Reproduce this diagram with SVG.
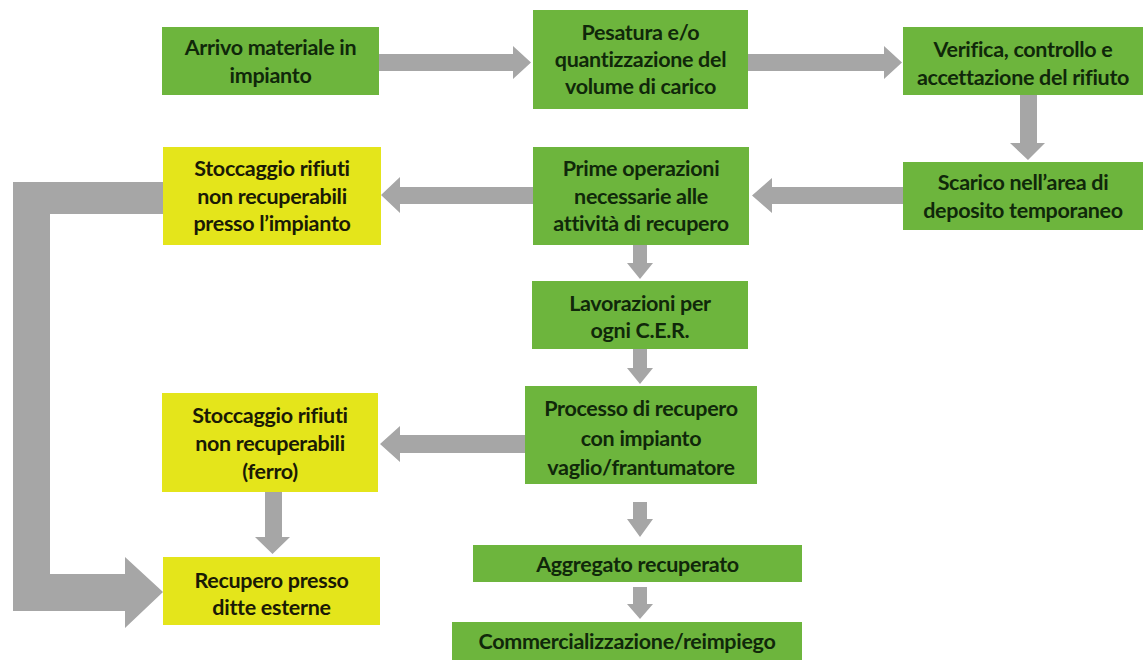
<svg xmlns="http://www.w3.org/2000/svg" width="1145" height="666" viewBox="0 0 1145 666">
<style>
.g{fill:#6db53d}
.y{fill:#e4e51b}
.a{fill:#a6a6a6}
text{font-family:Lato,"Liberation Sans",sans-serif;font-weight:700;font-size:21.5px;text-anchor:middle;dominant-baseline:central;letter-spacing:-0.3px}
.tg{fill:#10280a}
.ty{fill:#1a1a05}
</style>
<rect width="1145" height="666" fill="#ffffff"/>
<g id="connectors">
<polygon class="a" points="379,54 513,54 513,46 531,62.5 513,79 513,71 379,71"/>
<polygon class="a" points="748,54 884,54 884,46 902,62.5 884,79 884,71 748,71"/>
<polygon class="a" points="1020,95 1037,95 1037,143 1045,143 1028,160 1010,143 1020,143"/>
<polygon class="a" points="903,187 772,187 772,178 752,195.5 772,213 772,204 903,204"/>
<polygon class="a" points="533,187 400,187 400,177 381,195 400,213 400,204 533,204"/>
<polygon class="a" points="525,435 400,435 400,426 380,444 400,462 400,453 525,453"/>
<polygon class="a" points="633,245 647,245 647,263 653,263 640,279 627,263 633,263"/>
<polygon class="a" points="633,349 647,349 647,368 653,368 640,384 627,368 633,368"/>
<polygon class="a" points="633,502 647,502 647,519 653,519 640,537 627,519 633,519"/>
<polygon class="a" points="633,587 647,587 647,604 653,604 640,619 627,604 633,604"/>
<polygon class="a" points="265,492 282,492 282,537 290,537 272.5,554 255,537 265,537"/>
<polygon class="a" points="163,182 13,182 13,611 125,611 125,628 163,592 125,557 125,574 50,574 50,214 163,214"/>
</g>
<g id="arrivo">
<rect class="g" x="162" y="27" width="217" height="68"/>
<text class="tg" x="270.5" y="47">Arrivo materiale in</text>
<text class="tg" x="270.5" y="75">impianto</text>
</g>
<g id="pesatura">
<rect class="g" x="533" y="10" width="215" height="99"/>
<text class="tg" x="640.5" y="32">Pesatura e/o</text>
<text class="tg" x="640.5" y="59">quantizzazione del</text>
<text class="tg" x="640.5" y="86">volume di carico</text>
</g>
<g id="verifica">
<rect class="g" x="903" y="27" width="240" height="68"/>
<text class="tg" x="1023" y="49">Verifica, controllo e</text>
<text class="tg" x="1023" y="77">accettazione del rifiuto</text>
</g>
<g id="scarico">
<rect class="g" x="903" y="162" width="240" height="68"/>
<text class="tg" x="1023" y="182">Scarico nell’area di</text>
<text class="tg" x="1023" y="210">deposito temporaneo</text>
</g>
<g id="prime">
<rect class="g" x="533" y="147" width="216" height="98"/>
<text class="tg" x="641" y="168">Prime operazioni</text>
<text class="tg" x="641" y="196">necessarie alle</text>
<text class="tg" x="641" y="223">attività di recupero</text>
</g>
<g id="stoccaggio1">
<rect class="y" x="163" y="147" width="218" height="98"/>
<text class="ty" x="272" y="168">Stoccaggio rifiuti</text>
<text class="ty" x="272" y="196">non recuperabili</text>
<text class="ty" x="272" y="223">presso l’impianto</text>
</g>
<g id="lavorazioni">
<rect class="g" x="532" y="281" width="216" height="68"/>
<text class="tg" x="640" y="303">Lavorazioni per</text>
<text class="tg" x="640" y="330">ogni C.E.R.</text>
</g>
<g id="processo">
<rect class="g" x="525" y="386" width="232" height="98"/>
<text class="tg" x="641" y="408">Processo di recupero</text>
<text class="tg" x="641" y="438">con impianto</text>
<text class="tg" x="641" y="467">vaglio/frantumatore</text>
</g>
<g id="stoccaggio2">
<rect class="y" x="162" y="393" width="216" height="99"/>
<text class="ty" x="270" y="415">Stoccaggio rifiuti</text>
<text class="ty" x="270" y="443">non recuperabili</text>
<text class="ty" x="270" y="471">(ferro)</text>
</g>
<g id="recupero">
<rect class="y" x="163" y="557" width="217" height="68"/>
<text class="ty" x="271.5" y="580">Recupero presso</text>
<text class="ty" x="271.5" y="607">ditte esterne</text>
</g>
<g id="aggregato">
<rect class="g" x="473" y="545" width="329" height="37"/>
<text class="tg" x="637.5" y="563.5">Aggregato recuperato</text>
</g>
<g id="commercializzazione">
<rect class="g" x="452" y="622" width="350" height="38"/>
<text class="tg" x="627" y="641">Commercializzazione/reimpiego</text>
</g>
</svg>
